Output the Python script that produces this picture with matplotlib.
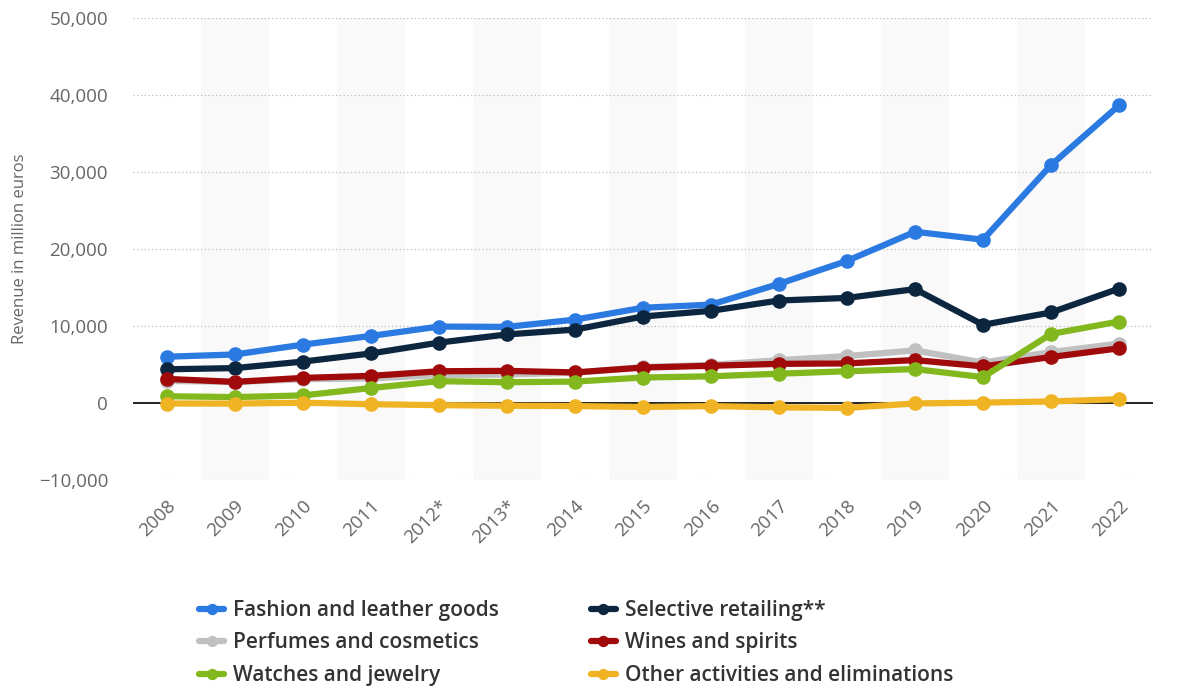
import matplotlib.pyplot as plt
from matplotlib.ticker import FuncFormatter

years = ['2008', '2009', '2010', '2011', '2012*', '2013*', '2014', '2015',
         '2016', '2017', '2018', '2019', '2020', '2021', '2022']

fashion = [6010, 6302, 7581, 8712, 9926, 9883, 10828, 12369, 12775, 15472, 18455, 22237, 21207, 30896, 38648]
selective = [4376, 4533, 5378, 6436, 7843, 8903, 9534, 11233, 11973, 13311, 13646, 14791, 10155, 11754, 14852]
perfumes = [2868, 2741, 3076, 3195, 3613, 3717, 3916, 4671, 4953, 5560, 6092, 6835, 5248, 6608, 7722]
wines = [3126, 2740, 3261, 3524, 4122, 4173, 3973, 4603, 4835, 5084, 5143, 5576, 4755, 5974, 7099]
watches = [879, 764, 985, 1949, 2836, 2697, 2782, 3308, 3468, 3805, 4123, 4405, 3356, 8964, 10581]
other = [-66, -77, 39, -157, -281, -356, -397, -520, -404, -568, -633, -60, 50, 200, 500]

series = [
    ('Fashion and leather goods', fashion, '#2a7ae2'),
    ('Selective retailing**', selective, '#0d2640'),
    ('Perfumes and cosmetics', perfumes, '#c0c0c0'),
    ('Wines and spirits', wines, '#a10a0a'),
    ('Watches and jewelry', watches, '#82b81e'),
    ('Other activities and eliminations', other, '#f0b323'),
]

plt.rcParams['font.family'] = ['Open Sans', 'DejaVu Sans']

fig = plt.figure(figsize=(11.79, 6.88), dpi=100)
ax = fig.add_axes([133 / 1179, 1 - 480 / 688, 1020 / 1179, 462 / 688])

x = list(range(len(years)))

# alternating column shading
for i in x:
    if i % 2 == 1:
        ax.axvspan(i - 0.5, i + 0.5, color='#f9f9f9', zorder=0, lw=0)

handles = {}
for name, vals, col in series:
    h, = ax.plot(x, vals, color=col, lw=4.5, marker='o', ms=9.5, label=name,
                 solid_capstyle='round', zorder=3)
    handles[name] = h

ax.axhline(0, color='black', lw=1.2, zorder=2)

ax.set_xlim(-0.5, 14.5)
ax.set_ylim(-10000, 50000)
ax.set_yticks(range(-10000, 50001, 10000))
ax.yaxis.set_major_formatter(FuncFormatter(lambda v, p: f'{int(v):,}'.replace('-', '\u2212')))
ax.grid(axis='y', color='#bbbbbb', ls=(0, (1, 2)), lw=0.9)
ax.set_axisbelow(True)
ax.set_xticks(x)
ax.set_xticklabels(years, rotation=45, ha='right', rotation_mode='anchor')

for s in ax.spines.values():
    s.set_visible(False)
ax.tick_params(length=0, colors='#666666', labelsize=13.5)
ax.tick_params(axis='x', pad=12)
ax.tick_params(axis='y', pad=18)
ax.set_ylabel('Revenue in million euros', color='#666666', fontsize=12, labelpad=8)

order = ['Fashion and leather goods', 'Perfumes and cosmetics', 'Watches and jewelry',
         'Selective retailing**', 'Wines and spirits', 'Other activities and eliminations']
leg = fig.legend([handles[n] for n in order], order, ncol=2, loc='upper left',
                 bbox_to_anchor=(199 / 1179, 1 - 600 / 688), frameon=False,
                 fontsize=15, handlelength=1.2, handletextpad=0.45,
                 columnspacing=4.4, labelspacing=0.55, markerscale=0.75,
                 borderpad=0, borderaxespad=0)
for t in leg.get_texts():
    t.set_color('#333333')
    t.set_fontweight('semibold')

fig.savefig('out.png', dpi=100)
